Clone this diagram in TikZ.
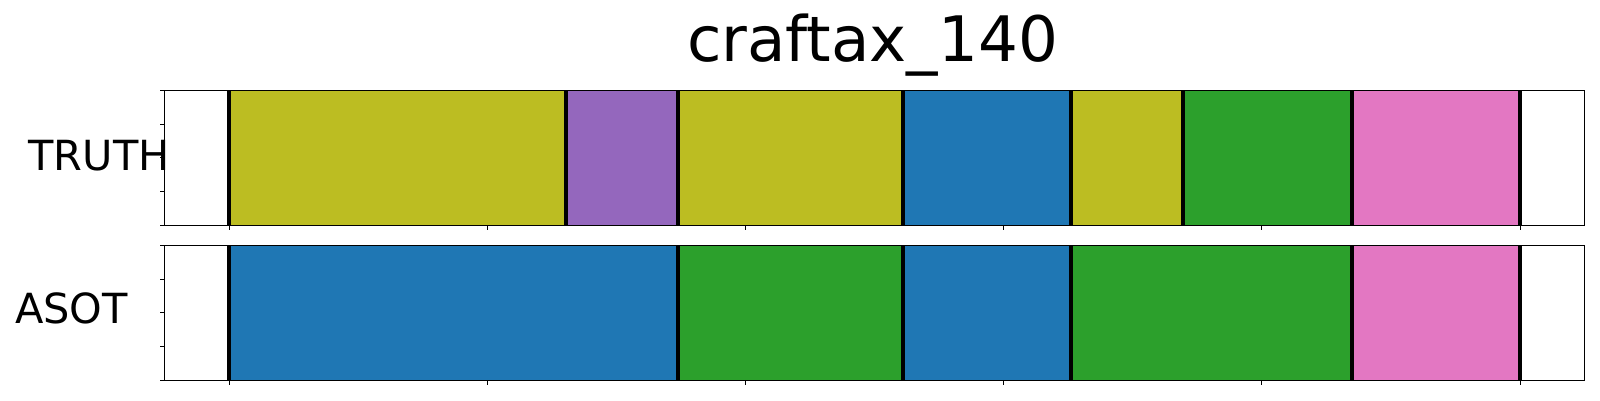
\documentclass[tikz,border=0pt]{standalone}
\usepackage{fontspec}
\setmainfont{DejaVu Sans}
\usepackage{tikz}
\usetikzlibrary{positioning}

\definecolor{tabolive}{HTML}{BCBD22}
\definecolor{tabpurple}{HTML}{9467BD}
\definecolor{tabblue}{HTML}{1F77B4}
\definecolor{tabgreen}{HTML}{2CA02C}
\definecolor{tabpink}{HTML}{E377C2}

\begin{document}
\begin{tikzpicture}[x=1pt, y=-1pt,
		bound/.style={line width=4pt},
		frame/.style={line width=1.1pt},
		tickmark/.style={line width=0.9pt}]
		\useasboundingbox (0,0) rectangle (1600,400);

			\node [anchor=base, inner sep=0, font=\fontsize{62.7}{70}\selectfont]
			(title) at (872.5,61.7) {craftax\_140};

			\node [anchor=base west, inner sep=0, font=\fontsize{41.5}{48}\selectfont]
			(truth) at (28.3,170) {TRUTH};

			\node [anchor=base west, inner sep=0, font=\fontsize{41.5}{48}\selectfont]
			(asot) at (15,323.3) {ASOT};

		\begin{scope}[shift={(229,0)}, x=11.226pt]
			\foreach \a/\b/\c in {0/30/tabolive, 30/40/tabpurple, 40/60/tabolive,
				60/75/tabblue, 75/85/tabolive, 85/100/tabgreen, 100/115/tabpink}
				\fill [\c] (\a,90.3) rectangle (\b,225.3);
			\foreach \a/\b/\c in {0/40/tabblue, 40/60/tabgreen, 60/75/tabblue,
				75/100/tabgreen, 100/115/tabpink}
				\fill [\c] (\a,245.3) rectangle (\b,380.3);

			\foreach \x in {0,30,40,60,75,85,100,115}
				\draw [bound] (\x,90.3) -- (\x,225.3);
			\foreach \x in {0,40,60,75,100,115}
				\draw [bound] (\x,245.3) -- (\x,380.3);

			\foreach \top in {90.3,245.3} {
				\draw [frame] (-5.75,\top) rectangle (120.75,\top+135);
				\foreach \k in {0,...,4}
					\draw [tickmark] (-5.75,\top+33.75*\k) -- ++(-4.5pt,0);
				\foreach \k in {0,...,5}
					\draw [tickmark] (23*\k,\top+135) -- ++(0,4.5);
			}
		\end{scope}
\end{tikzpicture}
\end{document}
